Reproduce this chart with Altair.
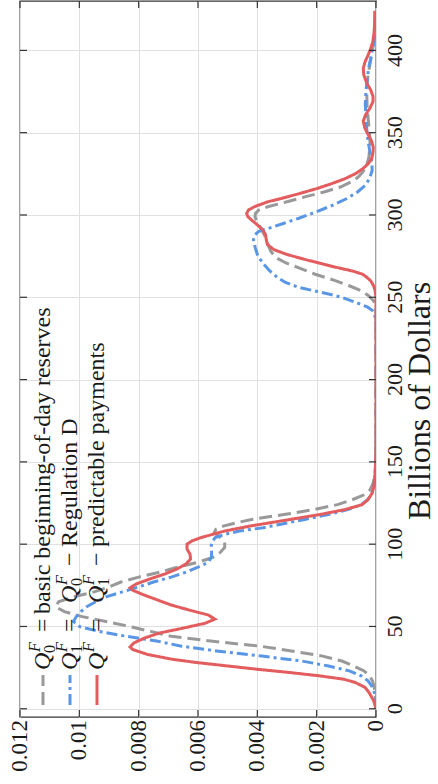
import altair as alt
import pandas as pd

# ---------------- data (x: Billions of Dollars, density in units of 1e-3) ----------------
gray_B = [0, 5, 10, 14, 17, 20, 23, 26, 29, 32, 35, 38, 41, 44, 47, 50, 53, 56, 59, 62, 65, 68, 71, 74, 77,
          80, 83, 86, 89, 92, 95, 98, 101, 104, 107, 109, 111, 113, 115, 118, 121, 124, 127, 130, 133, 137,
          142, 150, 160, 200, 240, 244, 246, 248, 251, 254, 257, 260, 264, 268, 271, 274, 278, 282, 287, 293,
          297, 299, 301, 303, 305, 308, 311, 314, 317, 320, 323, 326, 330, 335, 343, 350, 358, 366, 374, 381,
          386, 392, 398, 404, 410, 415, 421]
gray_d = [0, 0.01, 0.03, 0.07, 0.12, 0.22, 0.4, 0.75, 1.15, 1.8, 2.8, 3.9, 5.5, 6.9, 7.6, 8.3, 9.1, 9.9, 10.5,
          10.8, 10.7, 10.2, 9.5, 9.0, 8.6, 8.0, 7.3, 6.7, 6.0, 5.5, 5.25, 5.1, 5.1, 5.25, 5.45, 5.4, 5.15, 4.7,
          4.2, 3.1, 2.1, 1.3, 0.8, 0.4, 0.2, 0.1, 0.04, 0.01, 0, 0, 0, 0.01, 0.03, 0.09, 0.25, 0.5, 0.9, 1.35,
          2.05, 2.62, 3.05, 3.37, 3.55, 3.64, 3.74, 3.91, 4.04, 4.08, 4.06, 3.95, 3.65, 3.0, 2.4, 1.75, 1.2,
          0.85, 0.6, 0.45, 0.32, 0.24, 0.2, 0.22, 0.26, 0.3, 0.31, 0.29, 0.26, 0.2, 0.14, 0.08, 0.04, 0.02, 0.01]

blue_B = [0, 5, 10, 14, 17, 20, 23, 26, 29, 32, 35, 38, 41, 44, 47, 50, 53, 56, 59, 62, 65, 68, 71, 74, 77,
          80, 83, 86, 89, 92, 95, 98, 101, 104, 106, 108, 110, 112, 115, 118, 121, 124, 127, 131, 135, 140,
          148, 160, 200, 232, 236, 240, 242, 244, 246, 248, 250, 252, 254, 256, 259, 262, 266, 270, 275, 280,
          285, 288, 290, 292, 295, 298, 302, 306, 310, 314, 318, 322, 327, 332, 338, 345, 352, 360, 367, 375,
          382, 390, 396, 402, 408, 414, 421]
blue_d = [0, 0.02, 0.06, 0.15, 0.27, 0.5, 0.9, 1.6, 2.5, 3.85, 5.3, 6.55, 7.35, 8.4, 9.35, 10.0, 10.2, 10.1,
          9.95, 9.75, 9.45, 9.1, 8.55, 8.0, 7.5, 6.9, 6.4, 6.0, 5.65, 5.55, 5.54, 5.56, 5.54, 5.42, 5.1, 4.6,
          3.8, 3.25, 2.4, 1.6, 0.95, 0.5, 0.28, 0.14, 0.07, 0.04, 0.01, 0, 0, 0, 0.01, 0.05, 0.12, 0.28, 0.55,
          0.85, 1.15, 1.6, 2.1, 2.6, 3.05, 3.32, 3.58, 3.78, 3.98, 4.07, 4.13, 4.08, 3.95, 3.6, 3.1, 2.6, 2.0,
          1.45, 0.98, 0.62, 0.36, 0.22, 0.13, 0.14, 0.2, 0.27, 0.31, 0.34, 0.36, 0.34, 0.3, 0.24, 0.17, 0.1,
          0.04, 0.02, 0.01]

red_B = [0, 5, 10, 13, 16, 18, 20, 22, 24, 26, 28, 30, 33, 36, 37.5, 40, 43, 46, 49, 52, 54.5, 57, 60, 63, 66,
         69, 72, 73.5, 76, 79, 82, 85, 88, 91, 94, 97, 100, 102, 104, 106, 108, 111, 115, 118, 121, 124, 127,
         131, 135, 145, 160, 200, 250, 254, 257, 260, 262, 264, 266, 268, 270, 273, 276, 279, 282, 285, 288,
         291, 294, 297, 299, 301, 303, 305, 308, 310, 313, 316, 319, 322, 325, 328, 331, 334, 338, 341, 345,
         349, 353, 357, 361, 365, 369, 372, 376, 380, 385, 389, 393, 397, 401, 405, 410, 415, 424]
red_d = [0, 0.08, 0.24, 0.37, 0.7, 1.1, 1.9, 2.9, 4.0, 5.0, 6.0, 6.85, 7.7, 8.2, 8.29, 8.16, 7.8, 7.3, 6.5,
         5.75, 5.43, 5.66, 6.3, 6.9, 7.35, 7.8, 8.2, 8.29, 8.06, 7.6, 7.1, 6.7, 6.4, 6.25, 6.27, 6.37, 6.37,
         6.2, 5.9, 5.5, 5.1, 4.25, 2.9, 1.9, 1.05, 0.47, 0.27, 0.13, 0.07, 0.02, 0, 0, 0, 0.03, 0.08, 0.18,
         0.3, 0.45, 0.8, 1.3, 1.75, 2.4, 3.0, 3.45, 3.66, 3.7, 3.72, 3.82, 4.0, 4.2, 4.32, 4.36, 4.3, 4.1,
         3.65, 3.2, 2.58, 2.0, 1.5, 1.05, 0.7, 0.45, 0.27, 0.15, 0.1, 0.09, 0.15, 0.27, 0.38, 0.43, 0.35,
         0.2, 0.1, 0.1, 0.18, 0.31, 0.41, 0.43, 0.37, 0.27, 0.18, 0.11, 0.07, 0.05, 0.04]

series_names = ["Q0F", "Q1F", "QF"]
series_colors = ["#999999", "#5a96e6", "#e35c5e"]
series_dashes = [[13, 6], [11, 4, 3, 4], [1, 0]]

x_ticks = [0, 0.002, 0.004, 0.006, 0.008, 0.01, 0.012]
x_tick_labels = ["0", "0.002", "0.004", "0.006", "0.008", "0.01", "0.012"]
y_ticks = [0, 50, 100, 150, 200, 250, 300, 350, 400]
y_tick_labels = ["0", "50", "100", "150", "200", "250", "300", "350", "400"]
y_title = "Billions of Dollars"

legend_sub1 = ["0", "1", ""]
legend_sub2 = ["", "0", "1"]
legend_desc = ["basic beginning-of-day reserves", "Regulation D", "predictable payments"]

# ---------------- layout ----------------
W, H = 356, 716
PAD_L, PAD_T = 20, 1
FONT = "Liberation Serif"
TXT = "#1a1a1a"
FRAME = "#333333"
GRID = "#e0e0e0"

xscale = alt.Scale(domain=[0, 0.012], reverse=True, nice=False, zero=False)
yscale = alt.Scale(domain=[-5, 430], nice=False, zero=False)

# axes draw only the grid; labels and title are rotated text marks below
xaxis = alt.Axis(values=x_ticks, orient="bottom", labels=False, ticks=False, domain=False, grid=True,
                 gridColor=GRID, gridWidth=1, title=None)
yaxis = alt.Axis(values=y_ticks, orient="right", labels=False, ticks=False, domain=False, grid=True,
                 gridColor=GRID, gridWidth=1, title=None)

series_data = [(gray_B, gray_d), (blue_B, blue_d), (red_B, red_d)]

layers = []
for i, (bv, dv) in enumerate(series_data):
    df = pd.DataFrame({"billions": bv, "density": [v / 1000 for v in dv]})
    layers.append(
        alt.Chart(df).mark_line(color=series_colors[i], strokeDash=series_dashes[i], strokeWidth=3,
                                 clip=True).encode(
            x=alt.X("density:Q", scale=xscale, axis=xaxis),
            y=alt.Y("billions:Q", scale=yscale, axis=yaxis),
            order=alt.Order("billions:Q"),
        )
    )

# inward ticks on all four sides
xt = pd.DataFrame({"density": x_ticks, "label": x_tick_labels})
yt = pd.DataFrame({"billions": y_ticks, "label": y_tick_labels})
TL = 7
for y0, y1 in [(H, H - TL), (0, TL)]:
    layers.append(alt.Chart(xt).mark_rule(color=FRAME, strokeWidth=1.2).encode(
        x=alt.X("density:Q", scale=xscale, axis=xaxis), y=alt.value(y0), y2=alt.value(y1)))
for x0, x1 in [(W, W - TL), (0, TL)]:
    layers.append(alt.Chart(yt).mark_rule(color=FRAME, strokeWidth=1.2).encode(
        y=alt.Y("billions:Q", scale=yscale, axis=yaxis), x=alt.value(x0), x2=alt.value(x1)))

# rotated tick labels
layers.append(alt.Chart(xt).mark_text(angle=270, align="right", baseline="middle", font=FONT, fontSize=23,
                                      color=TXT).encode(
    x=alt.X("density:Q", scale=xscale, axis=xaxis), y=alt.value(H + 3), text="label:N"))
layers.append(alt.Chart(yt).mark_text(angle=270, align="center", baseline="top", font=FONT, fontSize=22,
                                      color=TXT).encode(
    y=alt.Y("billions:Q", scale=yscale, axis=yaxis), x=alt.value(W + 9), text="label:N"))
# rotated axis title
layers.append(alt.Chart(pd.DataFrame({"t": [y_title]})).mark_text(
    angle=270, align="center", baseline="alphabetic", font=FONT, fontSize=32, color=TXT).encode(
    x=alt.value(W + 54), y=alt.value(400), text="t:N"))

# manual rotated legend
LX0, LDX, LY0 = 30, 27, 669
pieces = []
for i in range(3):
    bx = LX0 + LDX * i
    pieces.append(dict(style="it", text="Q", px=bx, py=LY0))
    pieces.append(dict(style="its", text="F", px=bx - 10, py=LY0 - 18))
    if legend_sub1[i]:
        pieces.append(dict(style="rms", text=legend_sub1[i], px=bx + 5, py=LY0 - 17))
    pieces.append(dict(style="rm", text="=", px=bx, py=LY0 - 38))
    if legend_sub2[i]:
        pieces.append(dict(style="it", text="Q", px=bx, py=LY0 - 67))
        pieces.append(dict(style="its", text="F", px=bx - 10, py=LY0 - 85))
        pieces.append(dict(style="rms", text=legend_sub2[i], px=bx + 5, py=LY0 - 84))
        pieces.append(dict(style="rm", text="\u2212", px=bx, py=LY0 - 104))
        pieces.append(dict(style="rm", text=legend_desc[i], px=bx, py=LY0 - 123))
    else:
        pieces.append(dict(style="rm", text=legend_desc[i], px=bx, py=LY0 - 56))
    layers.append(alt.Chart(pd.DataFrame({"a": [0]})).mark_rule(
        color=series_colors[i], strokeDash=series_dashes[i], strokeWidth=3).encode(
        x=alt.value(bx - 7), y=alt.value(704), y2=alt.value(674)))

pdf = pd.DataFrame(pieces)
styles = {"it": (24, "italic"), "its": (16, "italic"), "rm": (24, "normal"), "rms": (16, "normal")}
for st, (fs, fst) in styles.items():
    sub = pdf[pdf["style"] == st]
    layers.append(alt.Chart(sub).mark_text(angle=270, align="left", baseline="alphabetic", font=FONT,
                                           fontSize=fs, fontStyle=fst, color=TXT).encode(
        x=alt.X("px:Q", scale=None, axis=None),
        y=alt.Y("py:Q", scale=None, axis=None),
        text="text:N"))

chart = alt.layer(*layers).properties(
    width=W, height=H,
    padding={"left": PAD_L, "top": PAD_T, "right": 438 - PAD_L - W, "bottom": 784 - PAD_T - H},
    autosize=alt.AutoSizeParams(type="none"),
    background="white",
).configure_view(stroke=FRAME, strokeWidth=1.3)

chart.save("out.html", embed_options={"renderer": "svg", "actions": False})
